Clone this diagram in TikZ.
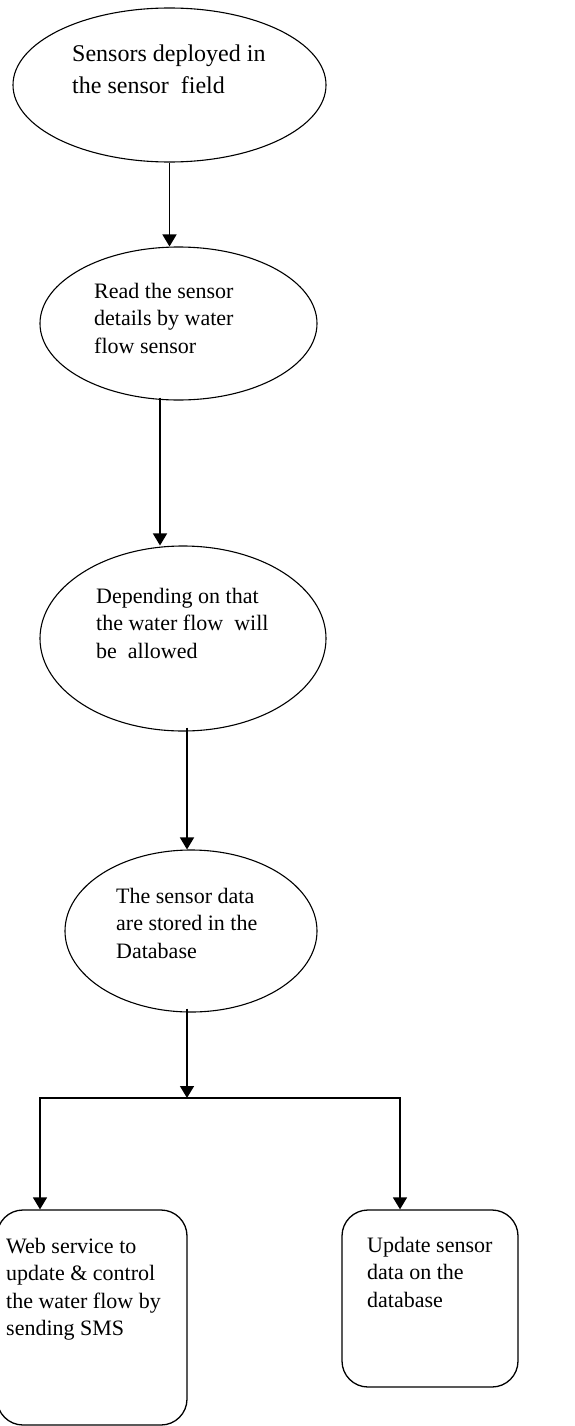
\documentclass[tikz,border=0pt]{standalone}
\usepackage{fontspec}
\setmainfont{Liberation Serif}
\usetikzlibrary{shapes.geometric, arrows.meta}

\begin{document}
\begin{tikzpicture}[x=1pt, y=-1pt,
  etapa/.style={draw, ellipse, line width=1.1pt, inner sep=0pt},
  caixa/.style={draw, rounded corners=26pt, line width=1.3pt, inner sep=0pt},
  texto/.style={anchor=north west, align=left, inner sep=0pt, font=\fontsize{22}{27.5}\selectfont},
  seta/.style={-{Triangle[length=12pt,width=14pt]}, line width=1.5pt}]

\useasboundingbox (0,0) rectangle (575,1426);

% Elipses das etapas
\node[etapa, minimum width=313pt, minimum height=154pt] (e1) at (169.5,85) {};
\node[etapa, minimum width=277pt, minimum height=153pt] (e2) at (178.5,323.5) {};
\node[etapa, minimum width=286pt, minimum height=185pt] (e3) at (183,638.5) {};
\node[etapa, minimum width=252pt, minimum height=162pt] (e4) at (191,931) {};

% Caixas finais
\node[caixa, minimum width=190pt, minimum height=215pt] (b1) at (92,1317.5) {};
\node[caixa, minimum width=176pt, minimum height=177pt] (b2) at (430,1298.5) {};

% Textos
\node[texto, font=\fontsize{24}{32}\selectfont] (t1) at (72,45) {Sensors deployed in\\the sensor\ \ field};
\node[texto] (t2) at (94,283) {Read the sensor\\details by water\\flow sensor};
\node[texto] (t3) at (96,588) {Depending on that\\the water flow\ \ will\\be\ \ allowed};
\node[texto] (t4) at (116,888) {The sensor data\\are stored in the\\Database};
\node[texto] (t5) at (6,1238) {Web service to\\update \& control\\the water flow by\\sending SMS};
\node[texto] (t6) at (367,1237) {Update sensor\\data on the\\database};

% Pontos da bifurcacao
\coordinate (meio) at (187,1098);
\coordinate (esq) at (40,1098);
\coordinate (dir) at (400,1098);

% Setas
\draw[seta] (e1.south) -- (e1.south |- e2.north);
\draw[seta] ([xshift=-18.5pt,yshift=3pt]e2.south) -- ([xshift=-18.5pt]e2.south |- e3.north);
\draw[seta] ([xshift=4pt,yshift=4pt]e3.south) -- ([xshift=4pt]e3.south |- e4.north);
\draw[seta] ([xshift=-4pt,yshift=4pt]e4.south) -- (meio);
\draw[seta] (meio) -- (esq) -- (esq |- b1.north);
\draw[seta] (meio) -- (dir) -- (dir |- b2.north);

\end{tikzpicture}
\end{document}
